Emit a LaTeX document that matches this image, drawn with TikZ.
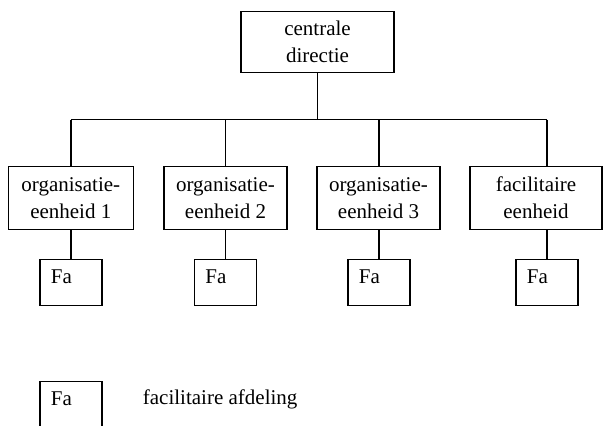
\documentclass[tikz,border=0pt]{standalone}
\usepackage{fontspec}
\setmainfont{Liberation Serif}
\begin{document}
\begin{tikzpicture}[x=1pt,y=-1pt,
  every node/.style={font=\fontsize{21}{27}\selectfont},
  unit/.style={draw, line width=1.4pt, inner sep=0pt, align=center},
  fabox/.style={draw, line width=1.4pt, inner sep=0pt, minimum width=62pt, minimum height=46pt},
  txt/.style={inner sep=0pt, anchor=west},
  link/.style={line width=1.4pt}]
\useasboundingbox (0,0) rectangle (604,425);
% top
\node[unit, minimum width=153pt, minimum height=61pt] (top) at (317.5,42.2) {centrale\\directie};
% units
\node[unit, minimum width=125pt, minimum height=63pt] (o1) at (70.8,197.8) {organisatie-\\eenheid 1};
\node[unit, minimum width=123pt, minimum height=63pt] (o2) at (225.5,197.8) {organisatie-\\eenheid 2};
\node[unit, minimum width=123pt, minimum height=63pt] (o3) at (378.5,197.8) {organisatie-\\eenheid 3};
\node[unit, minimum width=132pt, minimum height=63pt] (o4) at (536,197.8) {facilitaire\\eenheid};
% Fa boxes
\node[fabox] (f1) at (71,282.3) {};
\node[fabox] (f2) at (225.5,282.3) {};
\node[fabox] (f3) at (379,282.3) {};
\node[fabox] (f4) at (547,282.3) {};
\node[txt] (t1) at (50.7,277) {Fa};
\node[txt] (t2) at (205.2,277) {Fa};
\node[txt] (t3) at (358.7,277) {Fa};
\node[txt] (t4) at (526.7,277) {Fa};
% legend
\node[fabox, minimum height=50pt] (lg) at (71,406.7) {};
\node[txt] (lgt) at (50.7,399) {Fa};
\node[txt] (lgd) at (142.7,399) {facilitaire afdeling};
% connectors
\coordinate (busL) at (71,119.5);
\coordinate (busR) at (547,119.5);
\draw[link] (top.south) -- (top.south |- busL);
\draw[link] (busL) -- (busR);
\draw[link] (busL) -- (f1.north |- o1.north);
\draw[link] (o2.north |- busL) -- (o2.north);
\draw[link] (f3.north |- busL) -- (f3.north |- o3.north);
\draw[link] (busR) -- (f4.north |- o4.north);
\draw[link] (f1.north |- o1.south) -- (f1.north);
\draw[link] (o2.south) -- (f2.north);
\draw[link] (f3.north |- o3.south) -- (f3.north);
\draw[link] (f4.north |- o4.south) -- (f4.north);
\end{tikzpicture}
\end{document}
